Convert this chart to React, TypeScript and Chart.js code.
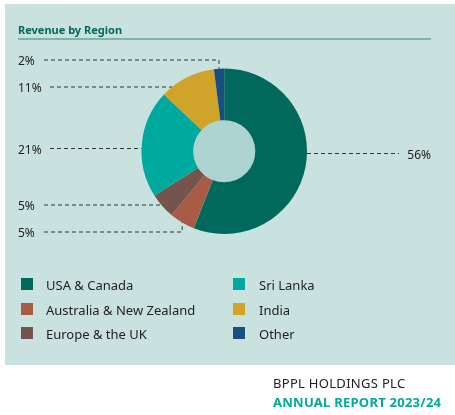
import React, { useEffect, useRef } from 'react';
import { Chart, registerables } from 'chart.js';

Chart.register(...registerables);

const regiones = ['USA & Canada', 'Australia & New Zealand', 'Europe & the UK', 'Sri Lanka', 'India', 'Other'];
const porcentajes = [56, 5, 5, 21, 11, 2];
const colores = ['#00695c', '#a85b45', '#75544b', '#00a99d', '#d0a428', '#1a4e82'];

const FUENTE = '"Noto Sans", sans-serif';
const FONDO_PANEL = '#cae2df';
const COLOR_HUECO = '#aed4d1';
const COLOR_LINEA = '#333333';

// Leader lines: where each label sits, per slice index
const guias = [
  { i: 0, y: 153.5, lado: 'der' },
  { i: 1, y: 232, lado: 'izq', textoX: 18, inicioX: 44, codo: true },
  { i: 2, y: 205, lado: 'izq', textoX: 18, inicioX: 44 },
  { i: 3, y: 148.5, lado: 'izq', textoX: 18, inicioX: 50 },
  { i: 4, y: 87, lado: 'izq', textoX: 18, inicioX: 50 },
  { i: 5, y: 60, lado: 'izq', textoX: 18, inicioX: 44, codo: true },
];

const huecoYGuias = {
  id: 'huecoYGuias',
  beforeDatasetsDraw(chart: any) {
    const arc = chart.getDatasetMeta(0).data[0];
    const { ctx } = chart;
    ctx.save();
    ctx.fillStyle = COLOR_HUECO;
    ctx.beginPath();
    ctx.arc(arc.x, arc.y, arc.innerRadius, 0, Math.PI * 2);
    ctx.fill();
    ctx.restore();
  },
  afterDatasetsDraw(chart: any) {
    const { ctx } = chart;
    const meta = chart.getDatasetMeta(0);
    ctx.save();
    ctx.strokeStyle = COLOR_LINEA;
    ctx.lineWidth = 1;
    ctx.setLineDash([4, 3]);
    ctx.font = `12px ${FUENTE}`;
    ctx.fillStyle = '#222222';
    ctx.textBaseline = 'middle';

    guias.forEach((g: any) => {
      const el = meta.data[g.i];
      const r = el.outerRadius;
      const medio = (el.startAngle + el.endAngle) / 2;
      const etiqueta = `${porcentajes[g.i]}%`;
      ctx.beginPath();
      if (g.lado === 'der') {
        const borde = el.x + Math.sqrt(r * r - (g.y - el.y) * (g.y - el.y));
        ctx.moveTo(borde, g.y);
        ctx.lineTo(399, g.y);
        ctx.stroke();
        ctx.textAlign = 'right';
        ctx.fillText(etiqueta, 431, g.y + 2);
      } else {
        ctx.moveTo(g.inicioX, g.y);
        if (g.codo) {
          const px = el.x + r * Math.cos(medio);
          const py = el.y + r * Math.sin(medio);
          ctx.lineTo(px, g.y);
          ctx.lineTo(px, py);
        } else {
          const borde = el.x - Math.sqrt(r * r - (g.y - el.y) * (g.y - el.y));
          ctx.lineTo(borde, g.y);
        }
        ctx.stroke();
        ctx.textAlign = 'left';
        ctx.fillText(etiqueta, g.textoX, g.y + 2);
      }
    });
    ctx.restore();
  },
};

const abs = (left: number, top: number, extra: React.CSSProperties = {}): React.CSSProperties => ({
  position: 'absolute',
  left,
  top,
  whiteSpace: 'nowrap',
  fontFamily: FUENTE,
  ...extra,
});

export default function App() {
  const chartRef = useRef<HTMLCanvasElement>(null);

  useEffect(() => {
    if (!chartRef.current) return;
    const chart = new Chart(chartRef.current, {
      type: 'doughnut',
      data: {
        labels: regiones,
        datasets: [{ data: porcentajes, backgroundColor: colores, borderWidth: 0 }],
      },
      options: {
        responsive: false,
        animation: false,
        cutout: '37.5%',
        layout: { padding: { top: 68.5, bottom: 181, left: 141.5, right: 148 } },
        plugins: { legend: { display: false }, tooltip: { enabled: false } },
      },
      plugins: [huecoYGuias],
    });
    return () => chart.destroy();
  }, []);

  // Legend runs down the first column, then the second
  const filaY = [285, 310, 334];

  return (
    <div style={{ position: 'fixed', left: 0, top: 0, width: 455, height: 415, background: '#ffffff', overflow: 'hidden' }}>
      <div style={{ position: 'absolute', left: 5, top: 4, width: 450, height: 361, background: FONDO_PANEL }} />
      <canvas ref={chartRef} width={455} height={415} style={{ position: 'absolute', left: 0, top: 0 }} />
      <div style={abs(18, 21, { fontSize: 11, fontWeight: 700, lineHeight: '18px', color: '#00695c' })}>Revenue by Region</div>
      <div style={{ position: 'absolute', left: 18, top: 38, width: 413, height: 2, background: '#7fb3ab' }} />
      {regiones.map((r, i) => {
        const col = i < 3 ? 0 : 1;
        const y = filaY[i < 3 ? i : i - 3];
        return (
          <React.Fragment key={r}>
            <div style={{ position: 'absolute', left: col ? 233 : 21, top: y - 7, width: 12, height: 12, background: colores[i] }} />
            <div style={abs(col ? 259 : 46, y - 9, { fontSize: 13, lineHeight: '18px', color: '#222222' })}>{r}</div>
          </React.Fragment>
        );
      })}
      <div style={abs(273, 374, { fontSize: 13, letterSpacing: 0.3, lineHeight: '18px', color: '#222222' })}>BPPL HOLDINGS PLC</div>
      <div style={abs(273, 393, { fontSize: 13, letterSpacing: 0.25, fontWeight: 700, lineHeight: '18px', color: '#00a99d' })}>ANNUAL REPORT 2023/24</div>
    </div>
  );
}
